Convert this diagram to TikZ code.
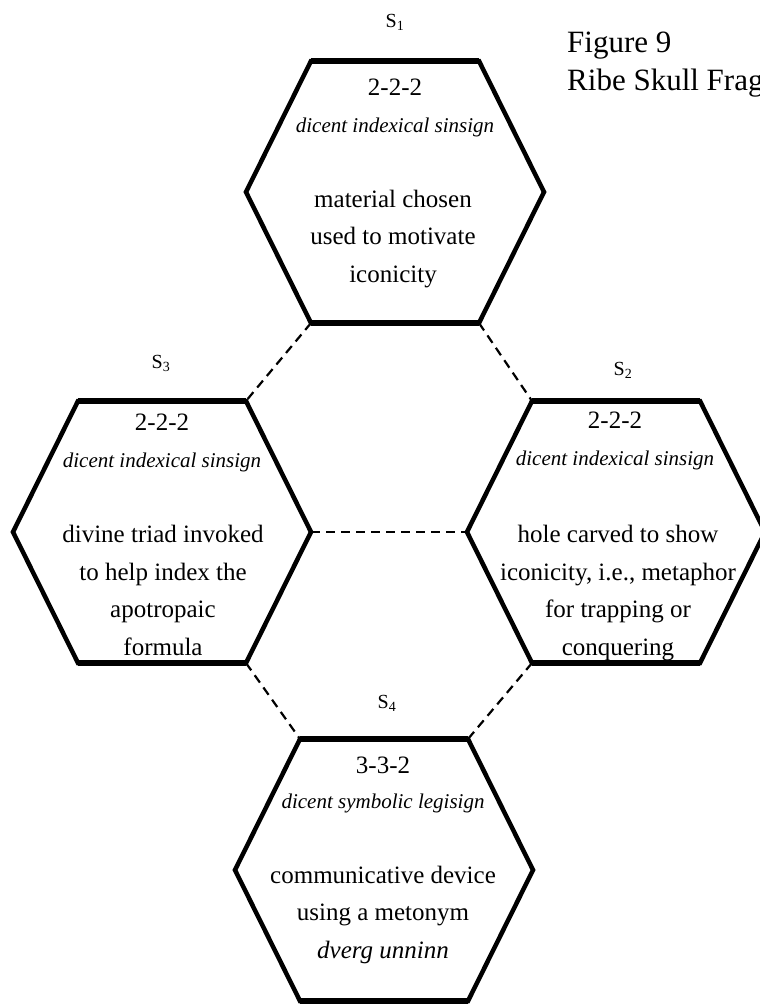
\documentclass[tikz,border=0pt]{standalone}
\usepackage{fontspec}
\setmainfont{Liberation Serif}
\usetikzlibrary{positioning,calc}

\tikzset{
  hexline/.style={line width=4.5pt, line join=miter},
  hexedge/.style={line width=6pt},
  link/.style={line width=2.2pt, dash pattern=on 9pt off 6pt},
  slabel/.style={anchor=base, inner sep=0pt, font=\fontsize{20}{24}\selectfont},
  code/.style={anchor=base, inner sep=0pt, font=\fontsize{25}{30}\selectfont},
  kind/.style={anchor=base, inner sep=0pt, font=\fontsize{21}{26}\selectfont\itshape},
  body/.style={anchor=base, inner sep=0pt, align=center, font=\fontsize{25}{37.5}\selectfont},
  title/.style={anchor=base west, inner sep=0pt, align=left, font=\fontsize{31}{38}\selectfont},
}

\begin{document}
\begin{tikzpicture}[x=1pt,y=-1pt]
\useasboundingbox (0,0) rectangle (760,1004);
\clip (0,0) rectangle (760,1004);

% Hexagons
\foreach \h/\cx/\cy in {s1/395/192, s2/616/532, s3/162/532, s4/384/870}{
  \coordinate (\h) at (\cx,\cy);
  \coordinate (\h-tl) at (\cx-84,\cy-131);
  \coordinate (\h-tr) at (\cx+84,\cy-131);
  \coordinate (\h-r) at (\cx+149,\cy);
  \coordinate (\h-br) at (\cx+84,\cy+131);
  \coordinate (\h-bl) at (\cx-84,\cy+131);
  \coordinate (\h-l) at (\cx-149,\cy);
  \draw[hexline] (\h-tl) -- (\h-tr) -- (\h-r) -- (\h-br) -- (\h-bl) -- (\h-l) -- cycle;
  \draw[hexedge] (\h-tl) -- (\h-tr) (\h-bl) -- (\h-br);
}

% Dashed links
\draw[link] (s1-bl) -- (s3-tr);
\draw[link] (s1-br) -- (s2-tl);
\draw[link] (s3-r) -- (s2-l);
\draw[link] (s3-br) -- (s4-tl);
\draw[link] (s2-bl) -- (s4-tr);

% S1
\node[slabel] (s1-name) at (395,27) {S\textsubscript{1}};
\node[code] (s1-code) at (395,95) {2-2-2};
\node[kind] (s1-kind) at (395,132) {dicent indexical sinsign};
\node[body] (s1-text) at (393,282) {material chosen\\used to motivate\\iconicity};

% S2
\node[slabel] (s2-name) at (623,375) {S\textsubscript{2}};
\node[code] (s2-code) at (615,428) {2-2-2};
\node[kind] (s2-kind) at (615,465) {dicent indexical sinsign};
\node[body] (s2-text) at (618,655) {hole carved to show\\iconicity, i.e., metaphor\\for trapping or\\conquering};

% S3
\node[slabel] (s3-name) at (161,368) {S\textsubscript{3}};
\node[code] (s3-code) at (162,430) {2-2-2};
\node[kind] (s3-kind) at (162,467) {dicent indexical sinsign};
\node[body] (s3-text) at (163,655) {divine triad invoked\\to help index the\\apotropaic\\formula};

% S4
\node[slabel] (s4-name) at (387,708) {S\textsubscript{4}};
\node[code] (s4-code) at (383,773) {3-3-2};
\node[kind] (s4-kind) at (383,808) {dicent symbolic legisign};
\node[body] (s4-text) at (383,958) {communicative device\\using a metonym\\\textit{dverg unninn}};

% Title
\node[title] (fig) at (567,90) {Figure 9\\Ribe Skull Fragment};
\end{tikzpicture}
\end{document}
